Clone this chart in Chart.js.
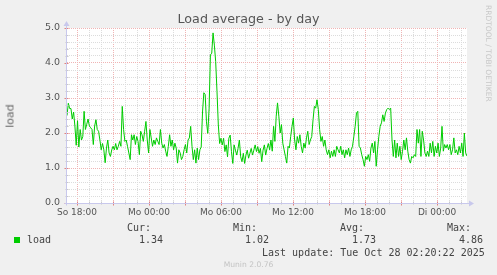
<!DOCTYPE html>
<html>
<head>
<meta charset="utf-8">
<script src="https://cdn.jsdelivr.net/npm/chart.js@4.4.0/dist/chart.umd.min.js"></script>
<style>
  body { margin: 0; background: #f0f0f0; }
  #wrap { position: relative; width: 497px; height: 275px; background: #f0f0f0; overflow: hidden; }
  #wrap canvas { position: absolute; left: 0; top: 0; }
  .t { position: absolute; white-space: pre; line-height: 1; font-family: "DejaVu Sans", sans-serif; color: #555; }
  .mono { font-family: "DejaVu Sans Mono", monospace; font-size: 10px; color: #444; }
</style>
</head>
<body>
<div id="wrap">
  <canvas id="loadChart" width="497" height="275"></canvas>
  <div class="t" style="left:0;width:497px;text-align:center;top:12.8px;font-size:12.7px;">Load average - by day</div>
  <div class="t" style="left:9.5px;top:115.5px;font-size:11px;color:#666;transform:translate(-50%,-50%) rotate(-90deg);">load</div>
  <div class="t" style="left:484px;top:5px;font-size:7.5px;color:#c8c8c8;writing-mode:vertical-rl;">RRDTOOL / TOBI OETIKER</div>
  <div id="legend"></div>
  <div class="t" style="left:0;width:497px;text-align:center;top:260.6px;font-size:7.6px;color:#c4c4c4;">Munin 2.0.76</div>
</div>
<script>
// x values are minutes relative to Sunday 18:00, 5 min per pixel in the original graph
const startMinute = -50;
const endMinute = 1950;

// load average, left to right
const loadValues = [
    2.5, 2.85, 2.7, 2.7, 2.4, 2.6, 2.2, 1.65, 2.35, 1.6, 2.1, 1.8, 1.9, 2.62, 2.1, 2.25, 2.4, 2.2, 2.15, 2.1,
    1.67, 2.2, 2.38, 2.1, 2.05, 1.8, 1.52, 1.7, 1.52, 1.15, 1.57, 1.8, 1.43, 1.33, 1.52, 1.62, 1.52, 1.7, 1.52, 1.62,
    1.76, 1.62, 2.76, 2.1, 1.76, 1.8, 1.62, 1.43, 1.24, 1.95,
    1.8, 1.95, 1.67, 1.9, 1.76, 1.38, 2.05, 1.95, 1.76, 2.05, 2.33, 1.8, 1.43, 2.1, 1.86, 1.62, 1.8, 1.67, 1.86, 1.76,
    1.67, 2.1, 1.71, 1.57, 1.67, 1.48, 1.33, 1.62, 1.95, 1.62, 1.8, 1.52, 1.71, 1.57, 1.14, 1.52, 1.43, 1.24, 1.33, 1.52,
    1.67, 1.43, 1.8, 1.86, 2.19, 1.62, 1.24, 1.52, 1.14, 1.57, 1.24, 1.52,
    1.6, 2.6, 3.15, 3.1, 2.32, 1.99, 2.7, 4.23, 4.28, 4.86, 4.51, 4.04, 3.18, 2.23, 1.7, 1.85, 1.66, 1.85, 1.47, 1.66,
    1.32, 1.85, 1.94, 1.47, 1.13, 1.66, 1.51, 1.37, 1.56, 1.8, 1.32, 1.18, 1.42, 1.13, 1.37, 1.51, 1.28, 1.42, 1.56, 1.37,
    1.51, 1.66, 1.47, 1.61, 1.42, 1.56, 1.18, 1.51, 1.66, 1.37, 1.56, 1.7,
    1.52, 1.8, 1.48, 2.19, 1.76, 2.48, 2.86, 2.48, 2.0, 2.24, 1.71, 1.52, 1.33, 1.14, 1.62, 1.57, 1.9, 2.19, 2.43, 1.8,
    1.52, 1.9, 1.71, 1.95, 1.62, 1.43, 1.71, 1.57, 1.86, 2.05, 1.67, 1.8, 1.9, 2.38, 2.76, 2.71, 2.95, 2.67, 2.1, 1.76,
    1.9, 1.62, 1.8, 1.52, 1.38, 1.52, 1.29, 1.48, 1.33, 1.52, 1.33, 1.62, 1.52,
    1.43, 1.62, 1.38, 1.52, 1.29, 1.52, 1.38, 1.57, 1.33, 1.52, 1.62, 1.9, 2.19, 2.57, 2.62, 1.62, 1.57, 1.38, 1.24, 1.05,
    1.33, 1.24, 1.38, 1.19, 1.57, 1.71, 1.43, 1.76, 1.05, 1.52, 1.9, 2.19, 2.29, 2.52, 2.33, 2.57, 2.67, 2.71, 2.67, 2.71,
    1.8, 1.33, 1.8, 1.29, 1.71, 1.33, 1.62, 1.24, 1.48, 1.8, 1.52,
    1.86, 1.48, 1.24, 1.14, 1.33, 1.29, 1.38, 1.33, 2.1, 1.71, 2.1, 1.33, 2.05, 1.8, 1.43, 1.33, 1.48, 1.33, 1.71, 1.43,
    1.76, 1.33, 1.62, 1.43, 1.71, 1.33, 1.57, 2.19, 1.48, 1.67, 1.57, 1.67, 1.52, 1.67, 1.38, 1.52, 1.86, 1.43, 1.52, 1.38,
    1.62, 1.43, 1.71, 1.33, 2.0, 1.43, 1.34
];

const xLabelMinutes = [0, 360, 720, 1080, 1440, 1800];
const xLabels = ['So 18:00', 'Mo 00:00', 'Mo 06:00', 'Mo 12:00', 'Mo 18:00', 'Di 00:00'];
const yMax = 5;

const statNames = ['Cur:', 'Min:', 'Avg:', 'Max:'];
const statValues = ['1.34', '1.02', '1.73', '4.86'];
const lastUpdate = 'Last update: Tue Oct 28 02:20:22 2025';

const majorColor = '#f0b4b4';
const minorColor = '#dcdcdc';
const axisColor = '#c8c8ec';

const stepMinutes = (endMinute - startMinute) / (loadValues.length - 1);
const points = loadValues.map((v, i) => ({ x: startMinute + i * stepMinutes, y: v }));

function isMajorY(v) {
    return Math.abs(v - Math.round(v)) < 1e-6;
}

const plotFrame = {
    id: 'plotFrame',
    beforeDraw(chart) {
        const { ctx, chartArea: a } = chart;
        ctx.save();
        ctx.fillStyle = '#ffffff';
        ctx.fillRect(a.left, a.top, a.right - a.left, a.bottom - a.top);
        ctx.restore();
    },
    afterDraw(chart) {
        const { ctx, chartArea: a } = chart;
        const xs = chart.scales.x;
        const ys = chart.scales.y;
        const ax = Math.round(a.left) - 0.5;
        const ay = Math.round(a.bottom) + 0.5;
        ctx.save();
        ctx.lineWidth = 1;

        // small tick marks across the axes
        xs.ticks.forEach(t => {
            const px = Math.round(xs.getPixelForValue(t.value)) + 0.5;
            const major = t.value % 180 === 0;
            ctx.strokeStyle = major ? '#e08080' : '#c8c8c8';
            ctx.beginPath();
            ctx.moveTo(px, ay - 2);
            ctx.lineTo(px, ay + (major ? 2 : 1));
            ctx.stroke();
        });
        ys.ticks.forEach(t => {
            const py = Math.round(ys.getPixelForValue(t.value)) + 0.5;
            const major = isMajorY(t.value);
            ctx.strokeStyle = major ? '#e08080' : '#c8c8c8';
            ctx.beginPath();
            ctx.moveTo(ax - (major ? 2 : 1), py);
            ctx.lineTo(ax + 2, py);
            ctx.stroke();
        });

        ctx.strokeStyle = axisColor;
        ctx.fillStyle = axisColor;
        ctx.beginPath();
        ctx.moveTo(ax, ay + 2);
        ctx.lineTo(ax, a.top - 3);
        ctx.moveTo(ax - 2, ay);
        ctx.lineTo(a.right + 3, ay);
        ctx.stroke();
        ctx.beginPath();
        ctx.moveTo(ax, a.top - 7);
        ctx.lineTo(ax - 3, a.top - 2);
        ctx.lineTo(ax + 3, a.top - 2);
        ctx.closePath();
        ctx.fill();
        ctx.beginPath();
        ctx.moveTo(a.right + 7, ay);
        ctx.lineTo(a.right + 2, ay - 3);
        ctx.lineTo(a.right + 2, ay + 3);
        ctx.closePath();
        ctx.fill();
        ctx.restore();
    }
};

const ctx = document.getElementById('loadChart').getContext('2d');
const loadChart = new Chart(ctx, {
    type: 'line',
    data: {
        datasets: [{
            label: 'load',
            data: points,
            borderColor: '#00cc00',
            borderWidth: 1,
            pointRadius: 0,
            tension: 0,
            fill: false
        }]
    },
    options: {
        responsive: false,
        animation: false,
        devicePixelRatio: 1,
        layout: { padding: { top: 28, right: 30, bottom: 0, left: 0 } },
        plugins: {
            legend: { display: false },
            title: { display: false },
            tooltip: { enabled: false }
        },
        scales: {
            x: {
                type: 'linear',
                min: startMinute,
                max: endMinute,
                afterFit(scale) { scale.height = 72; },
                afterBuildTicks(scale) {
                    scale.ticks = scale.ticks.filter(t => t.value % 60 === 0);
                },
                ticks: {
                    stepSize: 60,
                    includeBounds: false,
                    autoSkip: false,
                    maxRotation: 0,
                    padding: 4,
                    color: '#555',
                    font: { family: 'DejaVu Sans', size: 9 },
                    callback(value) {
                        const idx = xLabelMinutes.indexOf(value);
                        return idx >= 0 ? xLabels[idx] : '';
                    }
                },
                grid: {
                    drawTicks: false,
                    lineWidth: 1,
                    color: c => (c.tick && c.tick.value % 180 === 0) ? majorColor : minorColor,
                    borderDash: [1, 1]
                },
                border: { display: false, dash: [1, 1] }
            },
            y: {
                min: 0,
                max: yMax,
                afterFit(scale) { scale.width = 67; },
                ticks: {
                    stepSize: 0.2,
                    autoSkip: false,
                    padding: 7,
                    color: '#555',
                    font: { family: 'DejaVu Sans', size: 9.5 },
                    callback(value) {
                        return isMajorY(value) ? value.toFixed(1) : '';
                    }
                },
                grid: {
                    drawTicks: false,
                    lineWidth: 1,
                    color: c => (c.tick && isMajorY(c.tick.value)) ? majorColor : minorColor,
                    borderDash: [1, 1]
                },
                border: { display: false, dash: [1, 1] }
            }
        }
    },
    plugins: [plotFrame]
});

// legend rows under the graph
const legend = document.getElementById('legend');
const colLeft = [127, 233, 340, 447];
statNames.forEach((name, i) => {
    const head = document.createElement('div');
    head.className = 't mono';
    head.style.left = colLeft[i] + 'px';
    head.style.top = '222.5px';
    head.textContent = name;
    legend.appendChild(head);
    const val = document.createElement('div');
    val.className = 't mono';
    val.style.left = (colLeft[i] + 12) + 'px';
    val.style.top = '234.5px';
    val.textContent = statValues[i];
    legend.appendChild(val);
});
const swatch = document.createElement('div');
swatch.style.cssText = 'position:absolute;left:14px;top:237px;width:6px;height:6px;background:#00cc00;';
legend.appendChild(swatch);
const name = document.createElement('div');
name.className = 't mono';
name.style.left = '27px';
name.style.top = '234.5px';
name.textContent = 'load';
legend.appendChild(name);
const upd = document.createElement('div');
upd.className = 't mono';
upd.style.left = '262px';
upd.style.top = '247.5px';
upd.textContent = lastUpdate;
legend.appendChild(upd);
</script>
</body>
</html>
